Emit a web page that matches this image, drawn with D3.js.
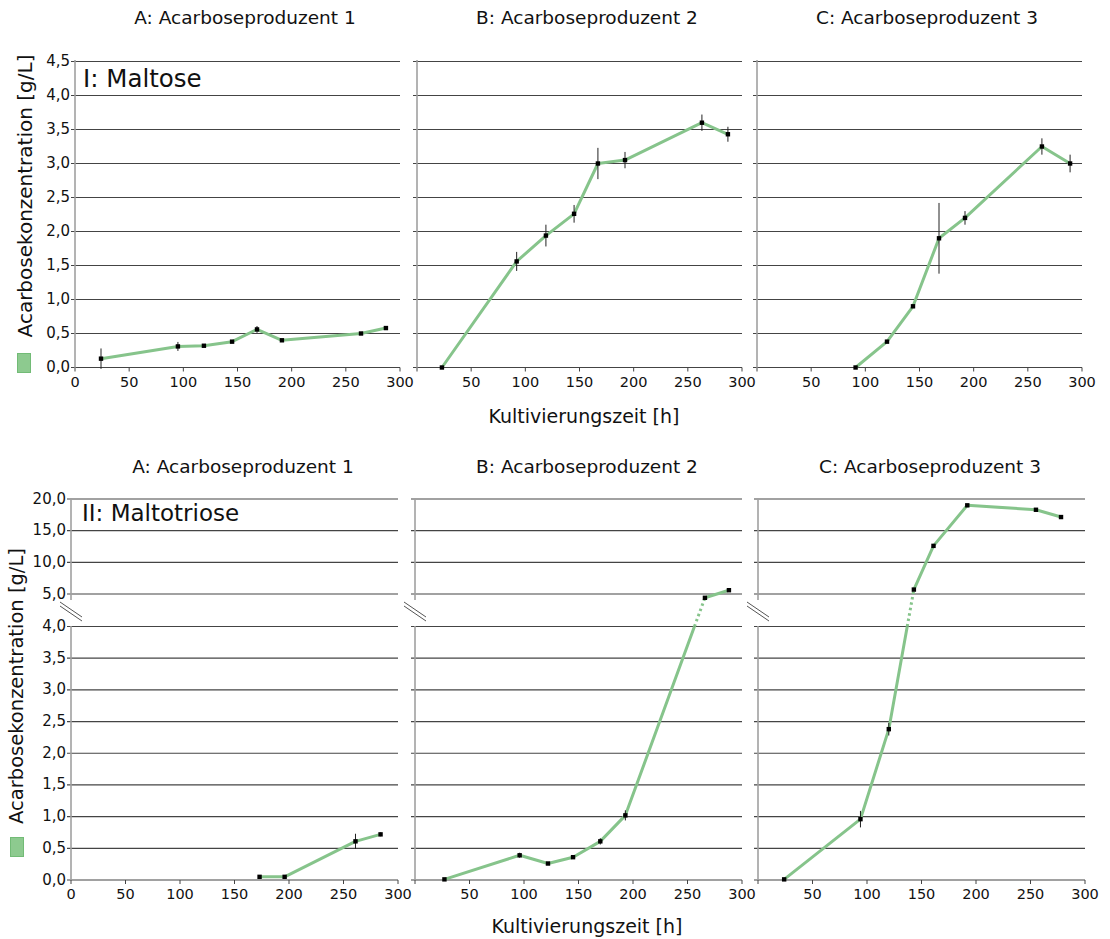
<!DOCTYPE html>
<html>
<head>
<meta charset="utf-8">
<script src="https://cdn.jsdelivr.net/npm/d3@7"></script>
<style>
  body { margin: 0; background: #fff; }
  text { font-family: "DejaVu Sans", Verdana, sans-serif; fill: #111; }
</style>
</head>
<body>
<div id="viz"></div>
<script>
// ---- data ----
var hourTicks = [0, 50, 100, 150, 200, 250, 300];
var topTicks = [0, 0.5, 1, 1.5, 2, 2.5, 3, 3.5, 4, 4.5];
var lowTicks = [0, 0.5, 1, 1.5, 2, 2.5, 3, 3.5, 4];
var upTicks = [5, 10, 15, 20];
var producers = ["A: Acarboseproduzent 1", "B: Acarboseproduzent 2", "C: Acarboseproduzent 3"];

// I: Maltose
var maltA_t = [24, 95, 119, 145, 168, 191, 264, 287];
var maltA_c = [0.13, 0.31, 0.32, 0.38, 0.56, 0.40, 0.50, 0.58];
var maltA_e = [0.15, 0.066, 0.02, 0.02, 0.05, 0.02, 0.02, 0.02];

var maltB_t = [23, 92, 119, 145, 167, 192, 263, 287];
var maltB_c = [0.0, 1.56, 1.94, 2.26, 3.0, 3.05, 3.60, 3.43];
var maltB_e = [0, 0.14, 0.16, 0.13, 0.23, 0.12, 0.12, 0.11];

var maltC_t = [91, 120, 144, 168, 192, 263, 289];
var maltC_c = [0.0, 0.38, 0.90, 1.90, 2.20, 3.25, 3.00];
var maltC_e = [0, 0.02, 0.02, 0.52, 0.10, 0.12, 0.13];

// II: Maltotriose
var triA_t = [173, 196, 261, 284];
var triA_c = [0.05, 0.05, 0.61, 0.72];
var triA_e = [0, 0, 0.12, 0.03];

var triB_t = [27, 96, 122, 145, 170, 193, 266, 288];
var triB_c = [0.01, 0.39, 0.26, 0.36, 0.61, 1.02, 4.4, 5.6];
var triB_e = [0, 0.04, 0.02, 0.02, 0.05, 0.08, 0, 0];

var triC_t = [24, 94, 120, 143, 161, 192, 255, 278];
var triC_c = [0.01, 0.96, 2.38, 5.7, 12.6, 19.0, 18.3, 17.15];
var triC_e = [0, 0.13, 0.1, 0, 0, 0, 0, 0];

// ---- layout ----
var W = 1110, H = 939,
    green = "#86c48b",
    grid_color = "#444",
    axis_color = "#a0a0a0";

var comma = function(v) { return d3.format(".1f")(v).replace(".", ","); };

var svg = d3.select("#viz").append("svg")
    .attr("width", W).attr("height", H);
svg.append("rect").attr("width", W).attr("height", H).attr("fill", "#fff");

var topX0 = [75, 417, 757], botX0 = [71, 415, 758];
var topSeries = [[maltA_t, maltA_c, maltA_e], [maltB_t, maltB_c, maltB_e], [maltC_t, maltC_c, maltC_e]];
var botSeries = [[triA_t, triA_c, triA_e], [triB_t, triB_c, triB_e], [triC_t, triC_c, triC_e]];

function gridLines(g, ticks, y, x) {
  g.selectAll(null).data(ticks).enter().append("line")
    .attr("x1", x(0) - 4).attr("x2", x(300))
    .attr("y1", function(d) { return y(d); }).attr("y2", function(d) { return y(d); })
    .attr("stroke", grid_color).attr("stroke-width", 1.2);
}

function yLabels(g, ticks, y, x) {
  g.selectAll(null).data(ticks).enter().append("text")
    .attr("x", x(0) - 5).attr("y", function(d) { return y(d); })
    .attr("dy", "0.3em").attr("text-anchor", "end")
    .style("font-size", "15px")
    .text(comma);
}

function xAxis(g, x, y0, col) {
  g.selectAll(null).data(hourTicks).enter().append("line")
    .attr("x1", function(d) { return x(d); }).attr("x2", function(d) { return x(d); })
    .attr("y1", y0).attr("y2", y0 + 4)
    .attr("stroke", grid_color).attr("stroke-width", 1);
  g.selectAll(null).data(col == 0 ? hourTicks : hourTicks.slice(1)).enter().append("text")
    .attr("x", function(d) { return x(d); }).attr("y", y0 + 19)
    .attr("text-anchor", "middle").style("font-size", "14.5px")
    .text(function(d) { return d; });
}

function drawSeries(g, s, x, yFn, splitV) {
  var pts = s[0].map(function(t, i) {
    return { x: x(t), y: yFn(s[1][i]), v: s[1][i], e: s[2][i] };
  });
  var runs = [], dotted = [], run = [[pts[0].x, pts[0].y]];
  for (var i = 1; i < pts.length; i++) {
    var p = pts[i - 1], c = pts[i];
    if (splitV != null && p.v <= splitV && c.v > splitV) {
      var yb = yFn(splitV), f = (p.y - yb) / (p.y - c.y);
      var ix = p.x + f * (c.x - p.x);
      run.push([ix, yb]);
      runs.push(run);
      dotted.push([[ix, yb], [c.x, c.y]]);
      run = [[c.x, c.y]];
    } else {
      run.push([c.x, c.y]);
    }
  }
  runs.push(run);
  var line = d3.line();
  g.selectAll(null).data(runs).enter().append("path")
    .attr("d", line).attr("fill", "none")
    .attr("stroke", green).attr("stroke-width", 3).attr("stroke-linejoin", "round");
  g.selectAll(null).data(dotted).enter().append("path")
    .attr("d", line).attr("fill", "none")
    .attr("stroke", green).attr("stroke-width", 3)
    .style("stroke-dasharray", "2.5,3");
  g.selectAll(null).data(pts.filter(function(d) { return d.e > 0; })).enter().append("line")
    .attr("x1", function(d) { return d.x; }).attr("x2", function(d) { return d.x; })
    .attr("y1", function(d) { return yFn(d.v - d.e); })
    .attr("y2", function(d) { return yFn(d.v + d.e); })
    .attr("stroke", "#222").attr("stroke-width", 1);
  g.selectAll(null).data(pts).enter().append("rect")
    .attr("x", function(d) { return d.x - 2.2; }).attr("y", function(d) { return d.y - 2.2; })
    .attr("width", 4.4).attr("height", 4.4).attr("fill", "#000");
}

/***************** I: Maltose (top row) *****************/
var yTop = d3.scaleLinear().domain([0, 4.5]).range([367.5, 61.5]);
topX0.forEach(function(x0, col) {
  var x = d3.scaleLinear().domain([0, 300]).range([x0, x0 + 325]);
  var g = svg.append("g");
  gridLines(g, topTicks, yTop, x);
  g.append("line").attr("x1", x0).attr("x2", x0).attr("y1", 60).attr("y2", 368)
    .attr("stroke", axis_color).attr("stroke-width", 1.6);
  if (col == 0) yLabels(g, topTicks, yTop, x);
  xAxis(g, x, yTop(0), col);
  drawSeries(g, topSeries[col], x, yTop, null);
  g.append("text").attr("x", x0 + 170).attr("y", 24).attr("text-anchor", "middle")
    .style("font-size", "18.5px").text(producers[col]);
});

/***************** II: Maltotriose (bottom row, broken axis) *****************/
var yLow = d3.scaleLinear().domain([0, 4]).range([880, 626.5]);
var yUp = d3.scaleLinear().domain([5, 20]).range([594, 499]);
var yBroken = function(v) { return v > 4 ? yUp(v) : yLow(v); };
botX0.forEach(function(x0, col) {
  var x = d3.scaleLinear().domain([0, 300]).range([x0, x0 + 327]);
  var g = svg.append("g");
  gridLines(g, lowTicks, yLow, x);
  gridLines(g, upTicks, yUp, x);
  g.append("line").attr("x1", x0).attr("x2", x0).attr("y1", 626).attr("y2", 880)
    .attr("stroke", axis_color).attr("stroke-width", 1.6);
  g.append("line").attr("x1", x0).attr("x2", x0).attr("y1", 498).attr("y2", 600)
    .attr("stroke", axis_color).attr("stroke-width", 1.6);
  // break marks
  [0, 4].forEach(function(o) {
    g.append("line").attr("x1", x0 - 11).attr("y1", 602 + o).attr("x2", x0 + 11).attr("y2", 617 + o)
      .attr("stroke", "#555").attr("stroke-width", 1);
  });
  if (col == 0) { yLabels(g, lowTicks, yLow, x); yLabels(g, upTicks, yUp, x); }
  xAxis(g, x, yLow(0), col);
  drawSeries(g, botSeries[col], x, yBroken, 4);
  g.append("text").attr("x", x0 + 172).attr("y", 473).attr("text-anchor", "middle")
    .style("font-size", "18.5px").text(producers[col]);
});

// axis titles
svg.append("text").attr("x", 584).attr("y", 423).attr("text-anchor", "middle")
  .style("font-size", "19px").text("Kultivierungszeit [h]");
svg.append("text").attr("x", 587).attr("y", 933).attr("text-anchor", "middle")
  .style("font-size", "19px").text("Kultivierungszeit [h]");
svg.append("text").attr("transform", "translate(32,196) rotate(-90)")
  .attr("text-anchor", "middle").style("font-size", "20px").text("Acarbosekonzentration [g/L]");
svg.append("text").attr("transform", "translate(23,686) rotate(-90)")
  .attr("text-anchor", "middle").style("font-size", "19.5px").text("Acarbosekonzentration [g/L]");

// panel labels
svg.append("text").attr("x", 83).attr("y", 87).style("font-size", "24.5px").text("I: Maltose");
svg.append("text").attr("x", 82).attr("y", 521).style("font-size", "23px").text("II: Maltotriose");

// legend swatches
svg.append("rect").attr("x", 17.5).attr("y", 353.5).attr("width", 13).attr("height", 19)
  .attr("fill", "#8dca8f").attr("stroke", "#72bb76");
svg.append("rect").attr("x", 10.5).attr("y", 837.5).attr("width", 13).attr("height", 19)
  .attr("fill", "#8dca8f").attr("stroke", "#72bb76");
</script>
</body>
</html>
